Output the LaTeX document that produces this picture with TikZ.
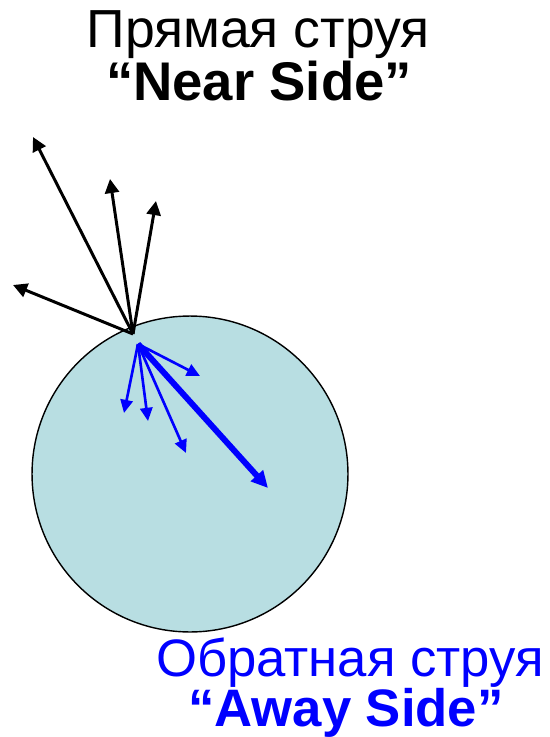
\documentclass[tikz,border=0pt]{standalone}
\usepackage{fontspec}
\setmainfont{Liberation Sans}
\usetikzlibrary{arrows.meta}
\definecolor{medium}{RGB}{184,222,226}

\begin{document}
\begin{tikzpicture}[x=0.02cm, y=-0.02cm,
  nearjet/.style={-{Triangle[length=8pt,width=8pt]}, line width=1.7pt, black},
  awayjet/.style={-{Triangle[length=7.5pt,width=7pt]}, line width=1.5pt, blue},
  leadjet/.style={-{Triangle[length=9.5pt,width=9pt]}, line width=3.4pt, blue},
  title/.style={font=\fontsize{30.5}{32}\selectfont, inner sep=0pt, anchor=base}
]
\useasboundingbox (0,0) rectangle (550,737);

\node[circle, draw, line width=0.8pt, fill=medium, minimum size=6.32cm, inner sep=0pt] (medium) at (190,474) {};

% near side
\coordinate (nearstart) at (133,334);
\coordinate (near1) at (13,285);
\coordinate (near2) at (33,137);
\coordinate (near3) at (110,179);
\coordinate (near4) at (156,201);
\draw[nearjet] (nearstart) -- (near1);
\draw[nearjet] (nearstart) -- (near2);
\draw[nearjet] (nearstart) -- (near3);
\draw[nearjet] (nearstart) -- (near4);

% away side
\coordinate (awaystart) at (138,344);
\coordinate (away1) at (124,413);
\coordinate (away2) at (148,421);
\coordinate (away3) at (186,453);
\coordinate (away4) at (200,376);
\coordinate (away5) at (268,488);
\draw[awayjet] (awaystart) -- (away1);
\draw[awayjet] (awaystart) -- (away2);
\draw[awayjet] (awaystart) -- (away3);
\draw[awayjet] (awaystart) -- (away4);
\draw[leadjet] (awaystart) -- (away5);

\node[title] (nearru) at (258,47) {Прямая струя};
\node[title, font=\fontsize{31}{33}\selectfont\bfseries] (nearen) at (259,100) {“Near Side”};
\node[title, text=blue, font=\fontsize{30}{32}\selectfont] (awayru) at (350,676) {Обратная струя};
\node[title, text=blue, font=\fontsize{30}{32}\selectfont\bfseries] (awayen) at (346,726) {“Away Side”};

\end{tikzpicture}
\end{document}
